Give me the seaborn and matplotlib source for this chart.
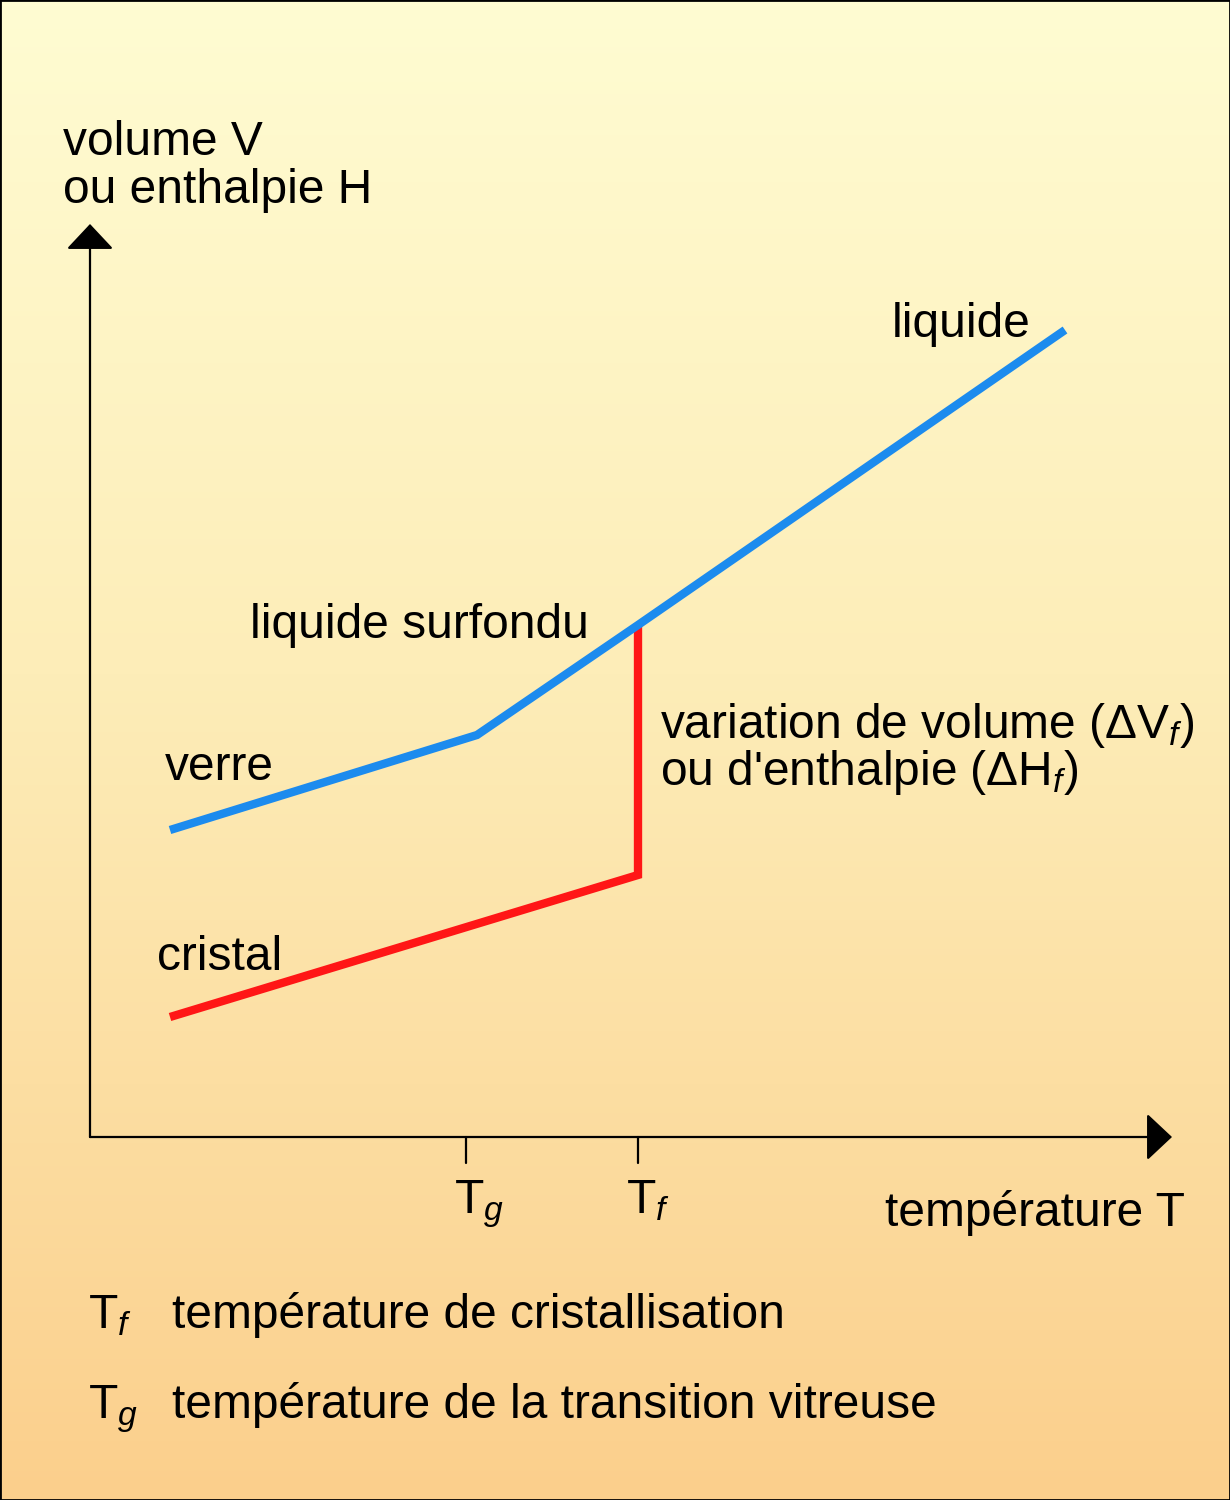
import numpy as np
import pandas as pd
import matplotlib
matplotlib.use("Agg")
import matplotlib.pyplot as plt
import seaborn as sns
from matplotlib.colors import LinearSegmentedColormap

# ---- data (temperature / volume in arbitrary units) ----
T_glass = [8.0, 38.7, 54.8, 97.5]      # verre -> liquide surfondu -> liquide
V_glass = [30.7, 40.2, 51.2, 80.7]
T_cryst = [8.0, 54.8, 54.8]            # cristal -> saut de fusion
V_cryst = [12.0, 26.2, 51.2]
tick_T = [37.6, 54.8]                  # Tg, Tf
tick_names = ["T$_{g}$", "T$_{f}$"]

sns.set_theme(style="white")
plt.rcParams["font.family"] = ["Liberation Sans", "DejaVu Sans"]
plt.rcParams["mathtext.fontset"] = "custom"
plt.rcParams["mathtext.rm"] = "Liberation Sans"
plt.rcParams["mathtext.it"] = "Liberation Sans:italic"

W, H = 1230, 1500
fig = plt.figure(figsize=(W / 100, H / 100), dpi=100)

# background gradient
bg = fig.add_axes([0, 0, 1, 1], zorder=0)
cmap = LinearSegmentedColormap.from_list(
    "bg", [(0.0, "#FFFCD2"), (0.45, "#FDEDB8"), (1.0, "#FBCF8C")])
grad = np.linspace(0, 1, 256).reshape(-1, 1)
bg.imshow(grad, aspect="auto", cmap=cmap, extent=[0, 1, 0, 1], origin="upper")
bg.set_xticks([]); bg.set_yticks([])
for s in bg.spines.values():
    s.set_visible(True); s.set_color("black"); s.set_linewidth(2)

# main axes: origin at pixel (90, 1137)
x0, y0 = 90, 1137
x1, y1 = 1172, 224
ax = fig.add_axes([x0 / W, (H - y0) / H, (x1 - x0) / W, (y0 - y1) / H], zorder=1)
ax.set_facecolor("none")
ax.set_xlim(0, (x1 - x0) / 10)
ax.set_ylim(0, (y0 - y1) / 10)
for s in ax.spines.values():
    s.set_visible(False)
ax.set_xticks([]); ax.set_yticks([])

blue = "#1C8BEE"
red = "#FF1616"
sns.lineplot(x=T_cryst, y=V_cryst, estimator=None, sort=False, ax=ax,
             color=red, linewidth=6, solid_joinstyle="miter", solid_capstyle="butt")
sns.lineplot(x=T_glass, y=V_glass, estimator=None, sort=False, ax=ax,
             color=blue, linewidth=6, solid_joinstyle="miter", solid_capstyle="butt")

# axes with arrows
xmax, ymax = ax.get_xlim()[1], ax.get_ylim()[1]
arrow = dict(arrowstyle="-|>,head_length=0.8,head_width=0.75", mutation_scale=20,
             lw=1.6, color="black", shrinkA=0, shrinkB=0)
ax.annotate("", xy=(0, ymax), xytext=(0, 0), arrowprops=arrow, annotation_clip=False)
ax.annotate("", xy=(xmax, 0), xytext=(0, 0), arrowprops=arrow, annotation_clip=False)

# ticks below axis
for t in tick_T:
    ax.plot([t, t], [0, -2.6], color="black", lw=1.6, clip_on=False)

FS = 34.5
def ftext(px, py, s, **kw):
    fig.text(px / W, 1 - py / H, s, fontsize=kw.pop("fs", FS), va="baseline",
             ha=kw.pop("ha", "left"), color="black", zorder=5, **kw)

ftext(63, 155, "volume V")
ftext(63, 203, "ou enthalpie H")
ftext(892, 337, "liquide")
ftext(250, 638, "liquide surfondu")
ftext(165, 780, "verre")
ftext(660, 738, "variation de volume (ΔV$_{f}$)")
ftext(660, 785, "ou d'enthalpie (ΔH$_{f}$)")
ftext(157, 970, "cristal")
ftext(885, 1226, "température T")
for t, name in zip(tick_T, tick_names):
    px = x0 + t * 10 - 12
    ftext(px, 1213, name)

ftext(88, 1328, "T$_{f}$")
ftext(172, 1328, "température de cristallisation")
ftext(88, 1418, "T$_{g}$")
ftext(172, 1418, "température de la transition vitreuse")

fig.savefig("out.png", dpi=100)
